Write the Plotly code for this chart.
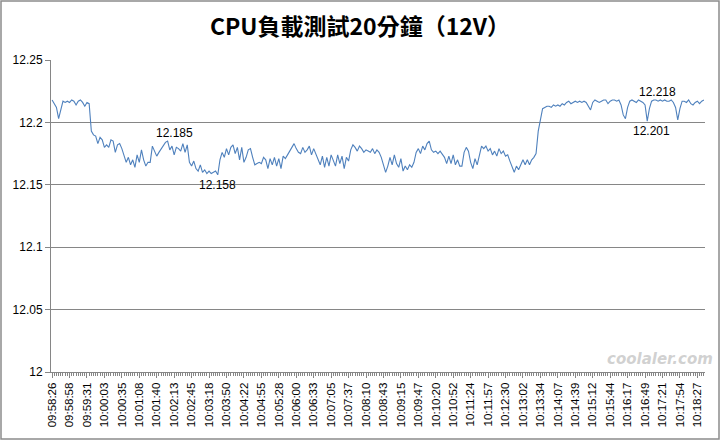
import plotly.graph_objects as go

# time labels shown on the category axis (one every 8 samples)
time_labels = ["09:58:26", "09:58:58", "09:59:31", "10:00:03", "10:00:35", "10:01:08",
               "10:01:40", "10:02:13", "10:02:45", "10:03:18", "10:03:50", "10:04:22",
               "10:04:55", "10:05:28", "10:06:00", "10:06:33", "10:07:05", "10:07:37",
               "10:08:10", "10:08:43", "10:09:15", "10:09:47", "10:10:20", "10:10:52",
               "10:11:24", "10:11:57", "10:12:30", "10:13:02", "10:13:34", "10:14:07",
               "10:14:39", "10:15:12", "10:15:44", "10:16:17", "10:16:49", "10:17:21",
               "10:17:54", "10:18:27"]

# 12V rail readings (V)
volts = [
    12.218, 12.215, 12.212, 12.203, 12.209, 12.217, 12.216, 12.217, 12.216, 12.218,
    12.217, 12.214, 12.217, 12.218, 12.216, 12.213, 12.216, 12.215, 12.193, 12.190,
    12.189, 12.183, 12.188, 12.186, 12.180, 12.182, 12.180, 12.186, 12.185, 12.176,
    12.182, 12.183, 12.179, 12.174, 12.168, 12.172, 12.166, 12.170, 12.164, 12.174,
    12.168, 12.178, 12.170, 12.165, 12.168, 12.168, 12.181, 12.177, 12.173, 12.176,
    12.179, 12.182, 12.184, 12.185, 12.178, 12.181, 12.174, 12.180, 12.179, 12.177,
    12.183, 12.176, 12.182, 12.168, 12.165, 12.169, 12.163, 12.161, 12.166, 12.160,
    12.162, 12.159, 12.161, 12.159, 12.160, 12.161, 12.158, 12.170, 12.176, 12.172,
    12.179, 12.174, 12.180, 12.182, 12.175, 12.180, 12.170, 12.180, 12.168, 12.172,
    12.178, 12.179, 12.172, 12.166, 12.167, 12.168, 12.167, 12.172, 12.170, 12.163,
    12.171, 12.166, 12.172, 12.165, 12.171, 12.163, 12.173, 12.171, 12.174, 12.177,
    12.181, 12.183, 12.179, 12.176, 12.175, 12.180, 12.176, 12.178, 12.181, 12.174,
    12.179, 12.175, 12.171, 12.166, 12.173, 12.164, 12.172, 12.165, 12.174, 12.170,
    12.165, 12.174, 12.167, 12.173, 12.163, 12.172, 12.169, 12.178, 12.182, 12.180,
    12.177, 12.181, 12.179, 12.176, 12.178, 12.177, 12.176, 12.179, 12.175, 12.178,
    12.176, 12.172, 12.166, 12.160, 12.165, 12.172, 12.166, 12.174, 12.167, 12.164,
    12.171, 12.161, 12.165, 12.162, 12.166, 12.164, 12.168, 12.176, 12.179, 12.175,
    12.181, 12.178, 12.183, 12.185, 12.178, 12.176, 12.177, 12.175, 12.177, 12.174,
    12.172, 12.167, 12.173, 12.167, 12.174, 12.166, 12.170, 12.165, 12.165, 12.176,
    12.180, 12.177, 12.168, 12.163, 12.171, 12.166, 12.174, 12.181, 12.179, 12.181,
    12.177, 12.179, 12.174, 12.177, 12.173, 12.179, 12.175, 12.177, 12.173, 12.174,
    12.169, 12.164, 12.160, 12.165, 12.162, 12.166, 12.170, 12.166, 12.170, 12.166,
    12.170, 12.172, 12.175, 12.193, 12.203, 12.211, 12.212, 12.213, 12.213, 12.212,
    12.214, 12.213, 12.214, 12.213, 12.215, 12.214, 12.216, 12.217, 12.215, 12.216,
    12.217, 12.216, 12.217, 12.216, 12.217, 12.216, 12.213, 12.210, 12.216, 12.218,
    12.217, 12.216, 12.217, 12.218, 12.218, 12.215, 12.217, 12.218, 12.218, 12.217,
    12.218, 12.214, 12.206, 12.203, 12.212, 12.217, 12.218, 12.217, 12.216, 12.218,
    12.217, 12.216, 12.214, 12.201, 12.211, 12.217, 12.218, 12.218, 12.217, 12.218,
    12.217, 12.218, 12.217, 12.217, 12.218, 12.216, 12.212, 12.202, 12.211, 12.217,
    12.217, 12.216, 12.218, 12.215, 12.214, 12.216, 12.217, 12.215, 12.217, 12.218,
]

# labelled points: (sample index, label position, xshift)
labelled = [(53, "above", 7), (76, "below", 0), (277, "above", 2), (273, "below", 4)]

LABEL_STEP = 8
idx = list(range(len(volts)))
grey = "#868686"

fig = go.Figure()
fig.add_trace(go.Scatter(x=idx, y=volts, mode="lines",
                         line=dict(color="#4F81BD", width=1.1), showlegend=False))

for i, pos, dx in labelled:
    fig.add_annotation(x=i, y=volts[i], text=f"{volts[i]:.3f}", showarrow=False,
                       xshift=dx, yshift=8 if pos == "above" else -10,
                       font=dict(family="Liberation Sans", size=12, color="#000000"))

fig.add_annotation(text="<b><i>coolaler.com</i></b>", xref="paper", yref="paper",
                   x=1.015, y=0.005, xanchor="right", yanchor="bottom", showarrow=False,
                   font=dict(family="DejaVu Sans", size=15, color="rgba(170,170,170,0.55)"))

ml, mr, mt, mb = 51, 15, 60, 68
pw, ph = 720 - ml - mr, 440 - mt - mb
fig.add_shape(type="rect", xref="paper", yref="paper",
              x0=-(ml - 1) / pw, x1=1 + (mr - 1) / pw,
              y0=-(mb - 1) / ph, y1=1 + (mt - 1) / ph,
              line=dict(color="#8c8c8c", width=1.5))

fig.update_layout(
    width=720, height=440,
    margin=dict(l=ml, r=mr, t=mt, b=mb),
    paper_bgcolor="white", plot_bgcolor="white",
    title=dict(text="<b>CPU負載測試20分鐘（12V）</b>", x=0.5, xanchor="center",
               y=1 - 27 / 440, yanchor="middle",
               font=dict(family="Noto Sans CJK TC", size=23, color="#000000")),
    xaxis=dict(range=[-0.5, len(volts) - 0.5],
               tickmode="array",
               tickvals=idx[::LABEL_STEP], ticktext=time_labels,
               tickangle=-90, ticks="outside", ticklen=5, tickcolor=grey,
               showline=True, linecolor=grey, linewidth=1, showgrid=False, zeroline=False,
               minor=dict(ticks="outside", dtick=1, ticklen=3, tickcolor=grey),
               tickfont=dict(family="Liberation Sans", size=11.5, color="#000000")),
    yaxis=dict(range=[12, 12.25], dtick=0.05, tickmode="linear", tick0=12,
               ticks="outside", ticklen=5, tickcolor=grey,
               showline=True, linecolor=grey, linewidth=1,
               showgrid=True, gridcolor=grey, gridwidth=1, zeroline=False,
               tickfont=dict(family="Liberation Sans", size=12, color="#000000")),
)

fig.write_html("out.html", config={"displayModeBar": False},
               post_script="document.body.style.margin='0';")
